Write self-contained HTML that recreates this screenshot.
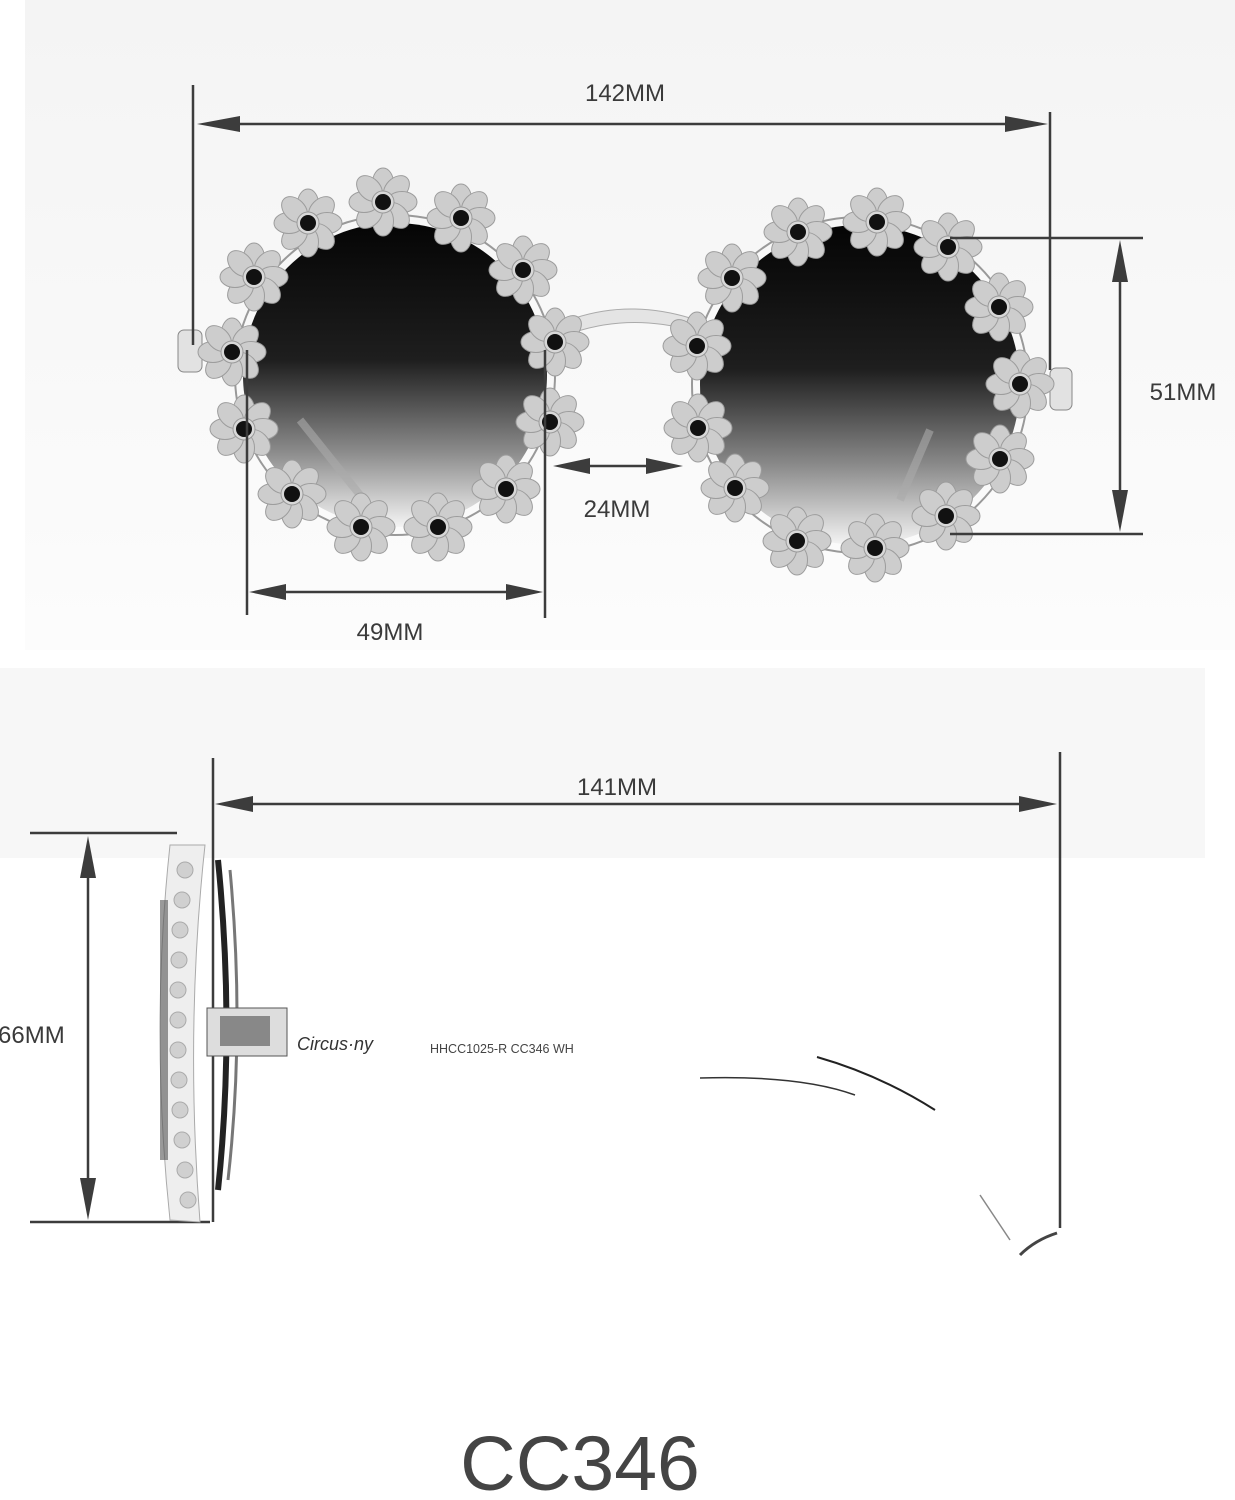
<!DOCTYPE html>
<html><head><meta charset="utf-8"><style>
html,body{margin:0;padding:0;background:#fff}
svg{display:block}
text{font-family:"Liberation Sans",Arial,sans-serif;fill:#3a3a3a}
</style></head><body>
<svg width="1235" height="1500" viewBox="0 0 1235 1500" xmlns="http://www.w3.org/2000/svg">
<defs>
 <linearGradient id="lens" x1="0" y1="0" x2="0" y2="1">
  <stop offset="0" stop-color="#050505"/><stop offset="0.45" stop-color="#1e1e1e"/>
  <stop offset="0.75" stop-color="#8a8a8a"/><stop offset="1" stop-color="#f4f4f4"/>
 </linearGradient>
 <linearGradient id="bg1" x1="0" y1="0" x2="0" y2="1">
  <stop offset="0" stop-color="#f4f4f4"/><stop offset="1" stop-color="#fcfcfc"/>
 </linearGradient>
 <g id="d">
  <g fill="#cdcdcd" stroke="#9c9c9c" stroke-width="1">
   <ellipse cx="0" cy="-19" rx="10.5" ry="15"/>
   <ellipse cx="0" cy="-19" rx="10.5" ry="15" transform="rotate(45)"/>
   <ellipse cx="0" cy="-19" rx="10.5" ry="15" transform="rotate(90)"/>
   <ellipse cx="0" cy="-19" rx="10.5" ry="15" transform="rotate(135)"/>
   <ellipse cx="0" cy="-19" rx="10.5" ry="15" transform="rotate(180)"/>
   <ellipse cx="0" cy="-19" rx="10.5" ry="15" transform="rotate(225)"/>
   <ellipse cx="0" cy="-19" rx="10.5" ry="15" transform="rotate(270)"/>
   <ellipse cx="0" cy="-19" rx="10.5" ry="15" transform="rotate(315)"/>
  </g>
  <circle r="11" fill="#d8d8d8" stroke="#999"/><circle r="8" fill="#111"/>
 </g>
</defs>
<rect x="25" y="0" width="1210" height="650" fill="url(#bg1)"/>
<rect x="0" y="668" width="1205" height="190" fill="#f7f7f7"/>

<!-- temples front view -->
<rect x="178" y="330" width="24" height="42" rx="6" fill="#e2e2e2" stroke="#888"/>
<rect x="1050" y="368" width="22" height="42" rx="6" fill="#e2e2e2" stroke="#888"/>
<!-- bridge -->
<path d="M575 318 Q630 300 690 318 L690 330 Q630 314 575 332 Z" fill="#e4e4e4" stroke="#aaa"/>
<!-- lenses -->
<circle cx="395" cy="375" r="152" fill="url(#lens)"/>
<circle cx="860" cy="385" r="160" fill="url(#lens)"/>
<path d="M300 420 L380 520" stroke="#aaa" stroke-width="8" fill="none" opacity="0.6"/>
<path d="M930 430 L900 500" stroke="#aaa" stroke-width="8" fill="none" opacity="0.6"/>
<circle cx="395" cy="375" r="160" fill="none" stroke="#999" stroke-width="2"/>
<circle cx="860" cy="385" r="168" fill="none" stroke="#999" stroke-width="2"/>
<!-- daisies left -->
<use href="#d" x="308" y="223"/><use href="#d" x="383" y="202"/><use href="#d" x="461" y="218"/>
<use href="#d" x="523" y="270"/><use href="#d" x="555" y="342"/><use href="#d" x="550" y="422"/>
<use href="#d" x="506" y="489"/><use href="#d" x="438" y="527"/><use href="#d" x="361" y="527"/>
<use href="#d" x="292" y="494"/><use href="#d" x="244" y="429"/><use href="#d" x="232" y="352"/>
<use href="#d" x="254" y="277"/>
<!-- daisies right -->
<use href="#d" x="798" y="232"/><use href="#d" x="877" y="222"/><use href="#d" x="948" y="247"/>
<use href="#d" x="999" y="307"/><use href="#d" x="1020" y="384"/><use href="#d" x="1000" y="459"/>
<use href="#d" x="946" y="516"/><use href="#d" x="875" y="548"/><use href="#d" x="797" y="541"/>
<use href="#d" x="735" y="488"/><use href="#d" x="698" y="428"/><use href="#d" x="697" y="346"/>
<use href="#d" x="732" y="278"/>

<!-- dimension lines -->
<g stroke="#3c3c3c" stroke-width="2.5" fill="none">
 <line x1="193" y1="85" x2="193" y2="345"/>
 <line x1="1050" y1="112" x2="1050" y2="370"/>
 <line x1="210" y1="124" x2="1035" y2="124"/>
 <line x1="950" y1="238" x2="1143" y2="238"/>
 <line x1="950" y1="534" x2="1143" y2="534"/>
 <line x1="1120" y1="255" x2="1120" y2="517"/>
 <line x1="568" y1="466" x2="668" y2="466"/>
 <line x1="247" y1="350" x2="247" y2="615"/>
 <line x1="545" y1="350" x2="545" y2="618"/>
 <line x1="262" y1="592" x2="530" y2="592"/>
 <line x1="213" y1="758" x2="213" y2="1222"/>
 <line x1="1060" y1="752" x2="1060" y2="1228"/>
 <line x1="228" y1="804" x2="1043" y2="804"/>
 <line x1="30" y1="833" x2="177" y2="833"/>
 <line x1="30" y1="1222" x2="210" y2="1222"/>
 <line x1="88" y1="852" x2="88" y2="1203"/>
</g>
<g fill="#3c3c3c">
 <polygon points="197,124 240,116 240,132"/><polygon points="1048,124 1005,116 1005,132"/>
 <polygon points="1120,240 1112,282 1128,282"/><polygon points="1120,532 1112,490 1128,490"/>
 <polygon points="553,466 590,458 590,474"/><polygon points="683,466 646,458 646,474"/>
 <polygon points="249,592 286,584 286,600"/><polygon points="543,592 506,584 506,600"/>
 <polygon points="215,804 253,796 253,812"/><polygon points="1057,804 1019,796 1019,812"/>
 <polygon points="88,836 80,878 96,878"/><polygon points="88,1220 80,1178 96,1178"/>
</g>
<text x="625" y="101" font-size="24" text-anchor="middle">142MM</text>
<text x="1183" y="400" font-size="24" text-anchor="middle">51MM</text>
<text x="617" y="517" font-size="24" text-anchor="middle">24MM</text>
<text x="390" y="640" font-size="24" text-anchor="middle">49MM</text>
<text x="617" y="795" font-size="24" text-anchor="middle">141MM</text>
<text x="-2" y="1043" font-size="24">66MM</text>

<!-- side view -->
<path d="M170 845 Q150 1030 170 1220 L200 1222 Q185 1030 205 845 Z" fill="#eee" stroke="#aaa"/>
<g fill="#d0d0d0" stroke="#aaa">
 <circle cx="185" cy="870" r="8"/><circle cx="182" cy="900" r="8"/><circle cx="180" cy="930" r="8"/>
 <circle cx="179" cy="960" r="8"/><circle cx="178" cy="990" r="8"/><circle cx="178" cy="1020" r="8"/>
 <circle cx="178" cy="1050" r="8"/><circle cx="179" cy="1080" r="8"/><circle cx="180" cy="1110" r="8"/>
 <circle cx="182" cy="1140" r="8"/><circle cx="185" cy="1170" r="8"/><circle cx="188" cy="1200" r="8"/>
</g>
<rect x="160" y="900" width="8" height="260" fill="#555" opacity="0.6"/>
<path d="M218 860 Q235 1030 218 1190" stroke="#222" stroke-width="6" fill="none"/>
<path d="M230 870 Q245 1030 228 1180" stroke="#777" stroke-width="3" fill="none"/>
<rect x="207" y="1008" width="80" height="48" fill="#ddd" stroke="#555"/>
<rect x="220" y="1016" width="50" height="30" fill="#888"/>
<text x="297" y="1050" font-size="18" font-style="italic" font-family="Liberation Serif,serif" style="fill:#333">Circus·ny</text>
<text x="430" y="1053" font-size="12.5" style="fill:#444">HHCC1025-R CC346 WH</text>
<path d="M700 1078 Q800 1075 855 1095" stroke="#333" stroke-width="1.5" fill="none"/>
<path d="M817 1057 Q880 1075 935 1110" stroke="#222" stroke-width="2" fill="none"/>
<path d="M1020 1255 Q1035 1240 1057 1233" stroke="#444" stroke-width="3" fill="none"/>
<path d="M980 1195 L1010 1240" stroke="#888" stroke-width="1.5" fill="none"/>

<text x="580" y="1490" font-size="77" text-anchor="middle" style="fill:#444">CC346</text>
</svg>
</body></html>
